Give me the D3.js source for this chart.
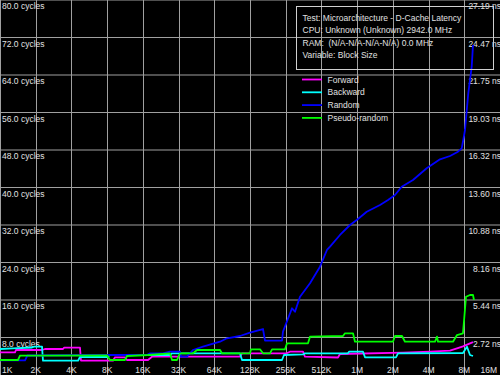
<!DOCTYPE html>
<html>
<head>
<meta charset="utf-8">
<script src="https://cdn.jsdelivr.net/npm/d3@7"></script>
<style>
  body { margin: 0; background: #000; }
  svg { display: block; }
  text { font-family: "Liberation Sans", Arial, sans-serif; font-size: 8.5px; fill: #e0e0e0; }
</style>
</head>
<body>
<div id="chart"></div>
<script>
/*******  Data ******/
// block sizes in KB for the vertical grid, and their labels
const sizeTicks  = [1, 2, 4, 8, 16, 32, 64, 128, 256, 512, 1024, 2048, 4096, 8192, 16384];
const sizeLabels = ["1K", "2K", "4K", "8K", "16K", "32K", "64K", "128K", "256K", "512K", "1M", "2M", "4M", "8M", "16M"];

// latency ticks (cycles) and the ns labels shown on the right side
const cycleTicks  = [8, 16, 24, 32, 40, 48, 56, 64, 72, 80];
const cycleLabels = ["8.0 cycles", "16.0 cycles", "24.0 cycles", "32.0 cycles", "40.0 cycles",
                     "48.0 cycles", "56.0 cycles", "64.0 cycles", "72.0 cycles", "80.0 cycles"];
const nsLabels    = ["2.72 ns", "5.44 ns", "8.16 ns", "10.88 ns", "13.60 ns",
                     "16.32 ns", "19.03 ns", "21.75 ns", "24.47 ns", "27.19 ns"];

// info box lines
const infoLines = [
  "Test: Microarchitecture - D-Cache Latency",
  "CPU: Unknown (Unknown) 2942.0 MHz",
  "RAM:  (N/A-N/A-N/A-N/A) 0.0 MHz",
  "Variable: Block Size"
];

// series names / colours
const seriesNames  = ["Forward", "Backward", "Random", "Pseudo-random"];
const seriesColors = ["#ff00ff", "#00ffff", "#0000ff", "#00ff00"];

// [block size KB, latency cycles]
const forward = [
  [1, 4.84], [1.338, 4.84], [1.364, 5.33], [2.26, 5.33], [2.395, 5.55], [3.396, 5.55],
  [3.463, 5.82], [4.724, 5.82], [4.816, 3.05], [8.96, 3.05], [9.32, 3.78], [11.31, 3.78],
  [11.76, 3.2], [17.68, 3.2], [19.1, 3.9], [105.4, 3.9], [109.6, 4.63], [261, 4.63],
  [278.2, 4.97], [358, 4.97], [372, 3.9], [706, 3.73], [734, 4.48], [2494, 4.76],
  [4211, 4.97], [6208, 5.2], [7112, 5.7], [7989, 6.1], [9700, 7.0]
];

const backward = [
  [1, 5.55], [1.287, 5.7], [1.861, 5.87], [1.935, 6.04], [2.26, 6.04], [2.304, 3.05],
  [4.544, 3.05], [4.724, 3.84], [7.98, 3.84], [8.455, 4.27], [27.1, 4.27], [28.17, 4.63],
  [105.4, 4.63], [109.6, 3.2], [238.2, 3.2], [247.6, 4.27], [358, 4.38], [372, 4.63],
  [857.6, 4.63], [874.5, 4.97], [1147, 4.97], [1193, 3.78], [2177, 3.78], [2263, 4.63],
  [7989, 4.69], [8634, 6.04], [9153, 4.27], [9700, 4.05]
];

const random = [
  [1, 3.1], [1.625, 3.1], [1.7, 4.16], [7.98, 4.27], [17.34, 4.27], [18.38, 4.63],
  [23.65, 4.63], [27.1, 4.97], [32.9, 4.97], [33.55, 3.9], [37.7, 3.9], [42.3, 5.33],
  [51.4, 6.04], [71.5, 7.1], [81.9, 7.83], [105.4, 8.32], [128, 9.02], [164.7, 9.81],
  [171.3, 7.32], [238.2, 7.32], [242.9, 9.24], [289.2, 14.23], [306.6, 13.5], [337.8, 16.7],
  [410.1, 19.56], [498, 23.1], [570, 26.67], [604.7, 27.37], [734, 29.87], [891.4, 32],
  [1016, 33.07], [1233, 34.84], [1596, 36.27], [1864, 37.33], [2135, 38.4], [2432, 40.17],
  [3028, 41.6], [3949, 44.1], [5113, 46.02], [6208, 46.72], [7250, 47.64], [7792, 48.36],
  [8034, 50.13], [8307, 52.27], [8853, 60.1], [9462, 65.77], [9700, 70.4]
];

const pseudoRandom = [
  [1, 3.2], [1.418, 3.2], [1.474, 4.12], [7.98, 4.2], [8.455, 3.2], [11.31, 3.2],
  [11.76, 4.05], [17.68, 4.27], [27.1, 4.63], [28.17, 3.2], [31.04, 3.2], [32.9, 4.63],
  [42.3, 4.63], [45.8, 5.33], [71.5, 5.33], [74.3, 4.63], [128, 4.63], [130.5, 5.48],
  [155.4, 5.48], [164.7, 4.63], [188.7, 4.63], [196.2, 5.48], [252.5, 5.48], [262.5, 6.76],
  [394.5, 6.76], [410.1, 8.17], [778, 8.32], [809, 8.9], [945, 8.9], [982, 7.1],
  [2054, 7.1], [2135, 8.32], [2446, 8.32], [2592, 7.1], [4640, 7.1], [4824, 8.17],
  [4918, 7.1], [6580, 7.1], [7112, 8.53], [7989, 8.9], [8470, 16.7], [9153, 17.07],
  [9700, 17.07], [9890, 16.0]
];

const allSeries = [forward, backward, random, pseudoRandom];

/*******  Layout ******/
const svgW = 500;
const svgH = 375;
const gridColor = "#a0a0a0";

var svg = d3.select("#chart")
  .append("svg")
  .attr("width", svgW)
  .attr("height", svgH)
  .style("background", "#000");

// Scales
// ==============================
var xScale = d3.scaleLog()
  .base(2)
  .domain([1, 16384])
  .range([0, svgW]);

var yScale = d3.scaleLinear()
  .domain([0, 80])
  .range([svgH, 0]);

// Grid
// ==============================
svg.append("g")
  .selectAll("line")
  .data(sizeTicks)
  .enter()
  .append("line")
  .attr("x1", d => Math.round(xScale(d)) + 0.5)
  .attr("x2", d => Math.round(xScale(d)) + 0.5)
  .attr("y1", 0)
  .attr("y2", svgH)
  .attr("stroke", gridColor)
  .attr("stroke-width", 1);

svg.append("g")
  .selectAll("line")
  .data(cycleTicks)
  .enter()
  .append("line")
  .attr("x1", 0)
  .attr("x2", svgW)
  .attr("y1", d => yScale(d))
  .attr("y2", d => yScale(d))
  .attr("stroke", gridColor)
  .attr("stroke-width", 1);

// Y labels, left (cycles) and right (ns)
// ========================================
svg.append("g")
  .selectAll("text")
  .data(cycleTicks)
  .enter()
  .append("text")
  .attr("x", 2)
  .attr("y", d => yScale(d) + 9)
  .text((d, i) => cycleLabels[i]);

svg.append("g")
  .selectAll("text")
  .data(cycleTicks)
  .enter()
  .append("text")
  .attr("x", 501)
  .attr("y", d => yScale(d) + 9)
  .attr("text-anchor", "end")
  .text((d, i) => nsLabels[i]);

// X labels (first / last kept inside the picture)
svg.append("g")
  .selectAll("text")
  .data(sizeTicks)
  .enter()
  .append("text")
  .attr("x", (d, i) => i === 0 ? 2 : (i === sizeTicks.length - 1 ? svgW - 3 : xScale(d)))
  .attr("y", 373)
  .attr("text-anchor", (d, i) => i === 0 ? "start" : (i === sizeTicks.length - 1 ? "end" : "middle"))
  .text((d, i) => sizeLabels[i]);

// Series lines
// ==============================
var line = d3.line()
  .x(d => xScale(d[0]))
  .y(d => yScale(d[1]));

svg.append("g")
  .selectAll("path")
  .data(allSeries)
  .enter()
  .append("path")
  .attr("d", line)
  .attr("fill", "none")
  .attr("stroke", (d, i) => seriesColors[i])
  .attr("stroke-width", 1.8)
  .attr("stroke-linejoin", "round");

// Info box + legend
// ==============================
svg.append("rect")
  .attr("x", 296.5)
  .attr("y", 6.5)
  .attr("width", 197)
  .attr("height", 63)
  .attr("fill", "none")
  .attr("stroke", "#d0d0d0")
  .attr("stroke-width", 1);

svg.append("g")
  .selectAll("text")
  .data(infoLines)
  .enter()
  .append("text")
  .attr("x", 302.5)
  .attr("y", (d, i) => 20.5 + i * 12.6)
  .style("white-space", "pre")
  .text(d => d);

var legend = svg.append("g")
  .selectAll("g")
  .data(seriesNames)
  .enter()
  .append("g")
  .attr("transform", (d, i) => `translate(302, ${79.5 + i * 12.8})`);

legend.append("line")
  .attr("x1", 0)
  .attr("x2", 20)
  .attr("stroke", (d, i) => seriesColors[i])
  .attr("stroke-width", 1.8);

legend.append("text")
  .attr("x", 25.5)
  .attr("y", 3)
  .text(d => d);
</script>
</body>
</html>
